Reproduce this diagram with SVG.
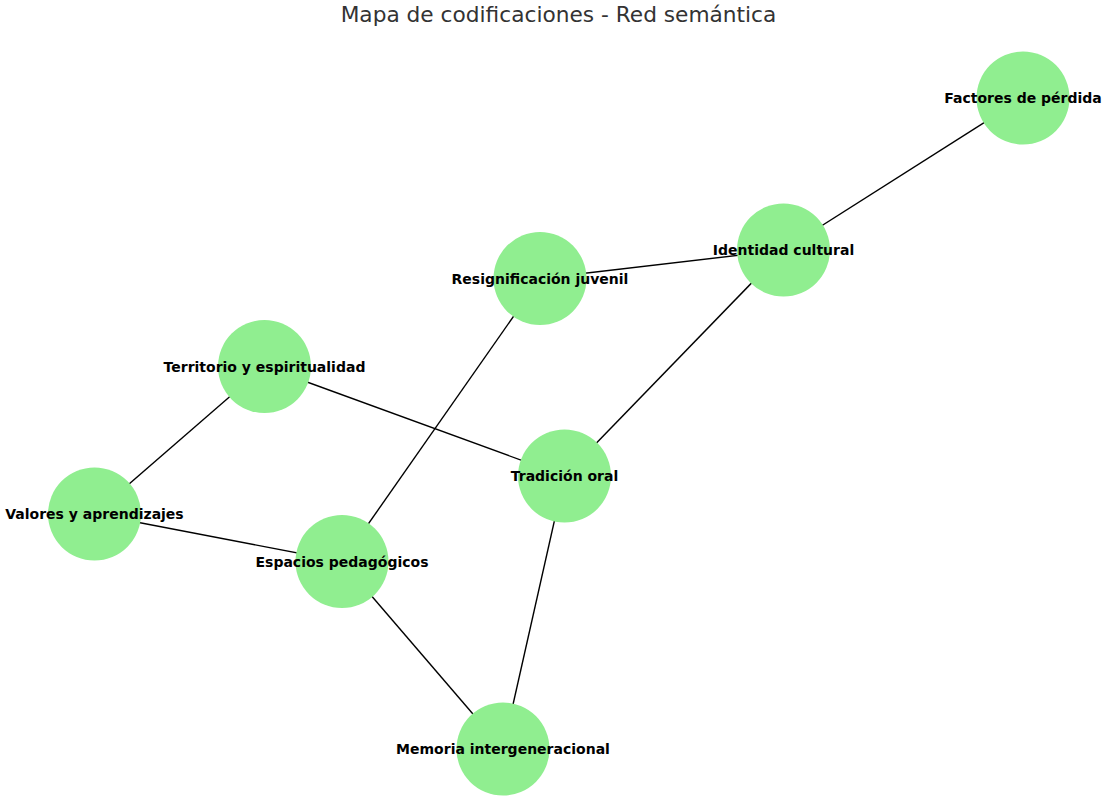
<svg xmlns="http://www.w3.org/2000/svg" width="1102" height="798" viewBox="0 0 1102 798">
<style>
.edge{stroke:#000;stroke-width:1.4;fill:none}
.node circle{fill:#90ee90}
.node text{font-family:"DejaVu Sans",sans-serif;font-weight:bold;font-size:14px;fill:#000;text-anchor:middle;dominant-baseline:central}
.title{font-family:"DejaVu Sans",sans-serif;font-size:21.7px;fill:#333;text-anchor:middle}
</style>
<rect width="1102" height="798" fill="#fff"/>
<text class="title" x="558.5" y="21.5">Mapa de codificaciones - Red semántica</text>
<g id="connectors">
<line class="edge" x1="1023" y1="98" x2="783.5" y2="250"/>
<line class="edge" x1="783.5" y1="250" x2="540" y2="278.5"/>
<line class="edge" x1="783.5" y1="250" x2="564.5" y2="476"/>
<line class="edge" x1="540" y1="278.5" x2="342" y2="561.5"/>
<line class="edge" x1="264.5" y1="366.5" x2="564.5" y2="476"/>
<line class="edge" x1="264.5" y1="366.5" x2="94.5" y2="514"/>
<line class="edge" x1="94.5" y1="514" x2="342" y2="561.5"/>
<line class="edge" x1="342" y1="561.5" x2="503" y2="749"/>
<line class="edge" x1="564.5" y1="476" x2="503" y2="749"/>
</g>
<g id="node-factores" class="node"><circle cx="1023" cy="98" r="46.5"/><text x="1023" y="98">Factores de pérdida</text></g>
<g id="node-identidad" class="node"><circle cx="783.5" cy="250" r="46.5"/><text x="783.5" y="250">Identidad cultural</text></g>
<g id="node-resignificacion" class="node"><circle cx="540" cy="278.5" r="46.5"/><text x="540" y="278.5">Resignificación juvenil</text></g>
<g id="node-territorio" class="node"><circle cx="264.5" cy="366.5" r="46.5"/><text x="264.5" y="366.5">Territorio y espiritualidad</text></g>
<g id="node-tradicion" class="node"><circle cx="564.5" cy="476" r="46.5"/><text x="564.5" y="476">Tradición oral</text></g>
<g id="node-valores" class="node"><circle cx="94.5" cy="514" r="46.5"/><text x="94.5" y="514">Valores y aprendizajes</text></g>
<g id="node-espacios" class="node"><circle cx="342" cy="561.5" r="46.5"/><text x="342" y="561.5">Espacios pedagógicos</text></g>
<g id="node-memoria" class="node"><circle cx="503" cy="749" r="46.5"/><text x="503" y="749">Memoria intergeneracional</text></g>
</svg>
